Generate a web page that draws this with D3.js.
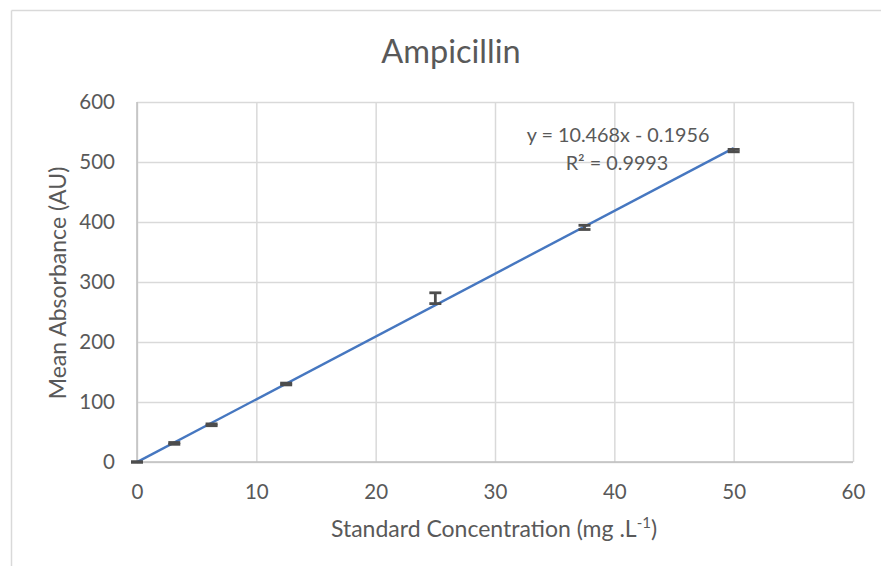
<!DOCTYPE html>
<html>
<head>
<meta charset="utf-8">
<script src="https://cdn.jsdelivr.net/npm/d3@7"></script>
<style>
  html, body { margin: 0; padding: 0; background: #fff; }
  svg { display: block; font-family: Lato, "Open Sans", sans-serif; }
</style>
</head>
<body>
<svg id="chart" width="881" height="566"></svg>
<script>
// Ampicillin calibration data
const concentrations = [0, 3.125, 6.25, 12.5, 25, 37.5, 50];
const meanAbsorbance = [0, 31, 62, 130, 273, 391, 519];
const absorbanceError = [0.5, 1.5, 1.5, 1.5, 9, 3.5, 2];
const xTicks = [0, 10, 20, 30, 40, 50, 60];
const yTicks = [0, 100, 200, 300, 400, 500, 600];
const trendSlope = 10.468;
const trendIntercept = -0.1956;
const rSquared = 0.9993;

const svg = d3.select("#chart");
const W = 881, H = 566;
const plot = { left: 137, right: 853, top: 102, bottom: 462 };
const textColor = "#595959";
const gridColor = "#d9d9d9";

// outer chart frame
svg.append("line").attr("x1", 11.5).attr("x2", W).attr("y1", 10.5).attr("y2", 10.5)
  .attr("stroke", gridColor).attr("stroke-width", 1.5);
svg.append("line").attr("x1", 11.5).attr("x2", 11.5).attr("y1", 10.5).attr("y2", H)
  .attr("stroke", gridColor).attr("stroke-width", 1.5);

const x = d3.scaleLinear().domain([0, 60]).range([plot.left, plot.right]);
const y = d3.scaleLinear().domain([0, 600]).range([plot.bottom, plot.top]);

// gridlines
const gx = svg.append("g").attr("transform", `translate(0,${plot.bottom})`)
  .call(d3.axisBottom(x).tickValues(xTicks).tickSize(-(plot.bottom - plot.top)).tickFormat(""));
gx.select(".domain").remove();
gx.selectAll("line").attr("stroke", gridColor).attr("stroke-width", 1.5);

const gy = svg.append("g").attr("transform", `translate(${plot.left},0)`)
  .call(d3.axisLeft(y).tickValues(yTicks).tickSize(-(plot.right - plot.left)).tickFormat(""));
gy.select(".domain").remove();
gy.selectAll("line").attr("stroke", gridColor).attr("stroke-width", 1.5);

// axis lines
svg.append("line").attr("x1", plot.left).attr("x2", plot.right)
  .attr("y1", plot.bottom).attr("y2", plot.bottom)
  .attr("stroke", "#bfbfbf").attr("stroke-width", 1.5);
svg.append("line").attr("x1", plot.left).attr("x2", plot.left)
  .attr("y1", plot.top).attr("y2", plot.bottom)
  .attr("stroke", "#bfbfbf").attr("stroke-width", 1.5);

// tick labels
const xa = svg.append("g").attr("transform", `translate(0,${plot.bottom})`)
  .call(d3.axisBottom(x).tickValues(xTicks).tickSize(0).tickPadding(22).tickFormat(d3.format("d")));
xa.select(".domain").remove();
xa.selectAll("text").attr("fill", textColor).style("font-size", "20.5px").style("font-family", "Lato, sans-serif");

const ya = svg.append("g").attr("transform", `translate(${plot.left},0)`)
  .call(d3.axisLeft(y).tickValues(yTicks).tickSize(0).tickPadding(22).tickFormat(d3.format("d")));
ya.select(".domain").remove();
ya.selectAll("text").attr("fill", textColor).style("font-size", "20.5px").style("font-family", "Lato, sans-serif");

// linear trendline
const fit = v => trendSlope * v + trendIntercept;
const xMin = d3.min(concentrations), xMax = d3.max(concentrations);
svg.append("line")
  .attr("x1", x(xMin)).attr("y1", y(fit(xMin)))
  .attr("x2", x(xMax)).attr("y2", y(fit(xMax)))
  .attr("stroke", "#4677c0").attr("stroke-width", 2.4);

// error bars
const data = concentrations.map((c, i) => ({ c, m: meanAbsorbance[i], e: absorbanceError[i] }));
const eb = svg.append("g").attr("stroke", "#4d4d4d").attr("stroke-width", 2.8).attr("fill", "none");
const cap = 6;
data.forEach(d => {
  const cx = x(d.c);
  eb.append("line").attr("x1", cx).attr("x2", cx).attr("y1", y(d.m - d.e)).attr("y2", y(d.m + d.e));
  eb.append("line").attr("x1", cx - cap).attr("x2", cx + cap).attr("y1", y(d.m + d.e)).attr("y2", y(d.m + d.e));
  eb.append("line").attr("x1", cx - cap).attr("x2", cx + cap).attr("y1", y(d.m - d.e)).attr("y2", y(d.m - d.e));
});

// equation label
const eq = svg.append("g").attr("fill", textColor).style("font-size", "19.8px").attr("text-anchor", "middle");
eq.append("text").attr("x", 618).attr("y", 142)
  .text(`y = ${trendSlope}x - ${Math.abs(trendIntercept)}`);
eq.append("text").attr("x", 617).attr("y", 170)
  .text(`R² = ${rSquared}`);

// chart title
svg.append("text").attr("x", 451).attr("y", 63).attr("text-anchor", "middle")
  .attr("fill", textColor).style("font-size", "32.5px").text("Ampicillin");

// axis titles
const xt = svg.append("text").attr("x", 494).attr("y", 537).attr("text-anchor", "middle")
  .attr("fill", textColor).style("font-size", "23px");
xt.append("tspan").text("Standard Concentration (mg .L");
xt.append("tspan").attr("dy", -9).style("font-size", "15px").text("-1");
xt.append("tspan").attr("dy", 9).text(")");

svg.append("text")
  .attr("transform", `translate(66,283) rotate(-90)`)
  .attr("text-anchor", "middle").attr("fill", textColor).style("font-size", "23px")
  .text("Mean Absorbance (AU)");
</script>
</body>
</html>
